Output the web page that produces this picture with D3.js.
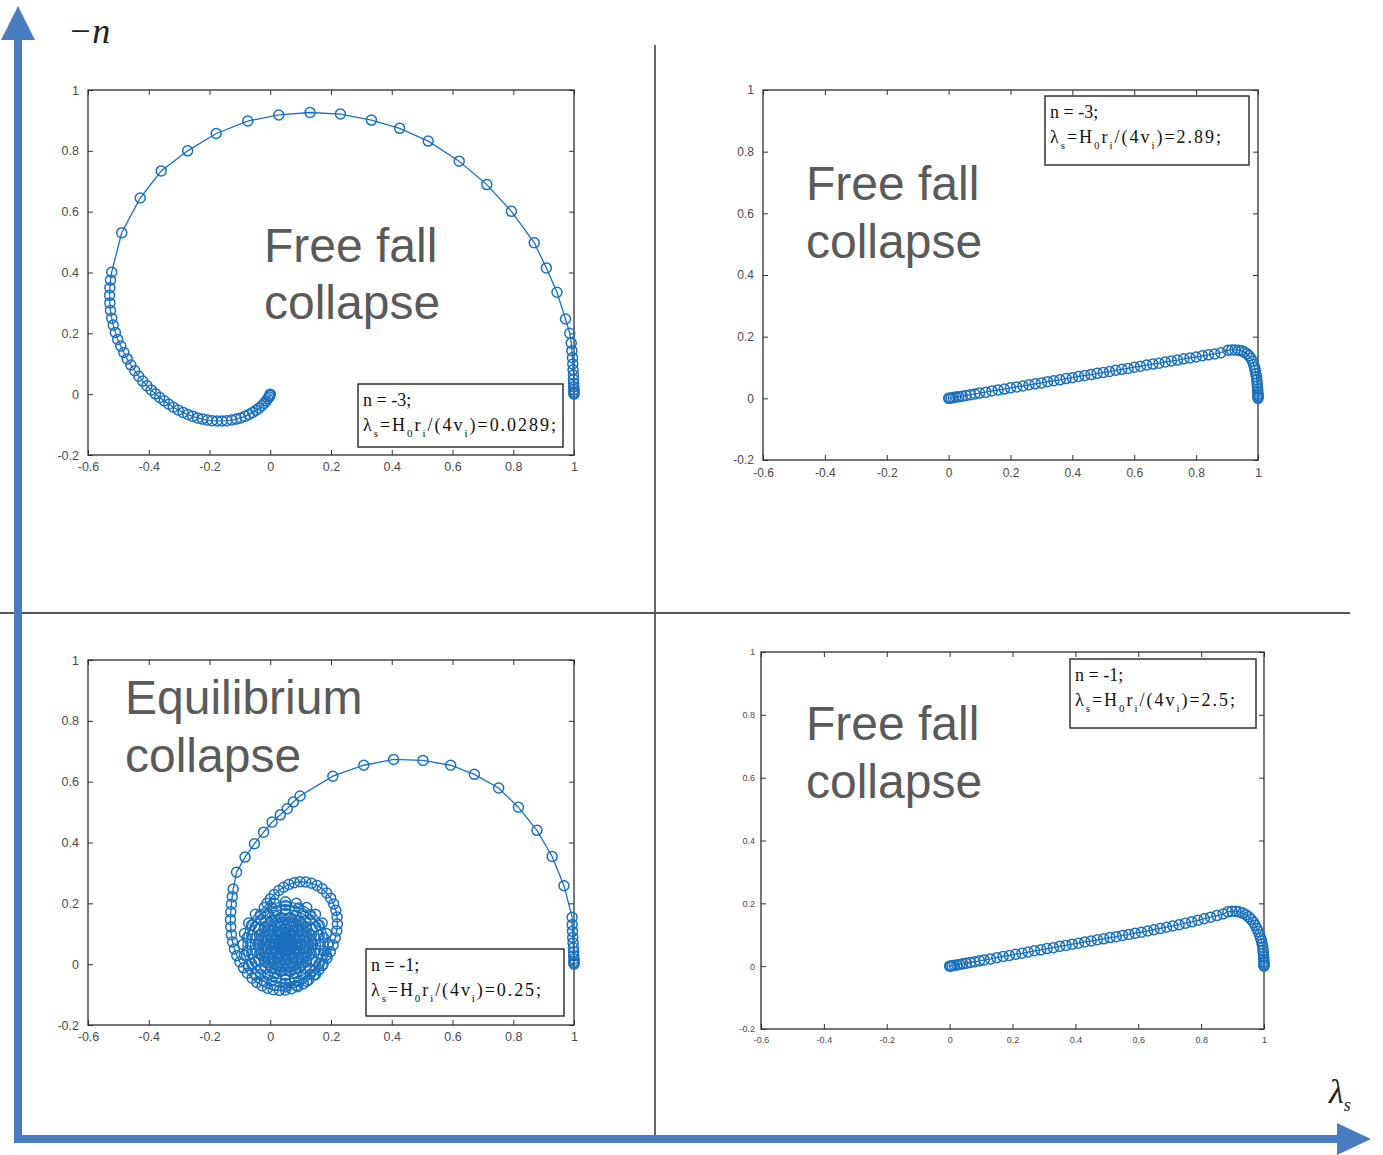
<!DOCTYPE html>
<html>
<head>
<meta charset="utf-8">
<script src="https://cdn.jsdelivr.net/npm/d3@7"></script>
<style>
  html, body { margin: 0; padding: 0; background: #ffffff; }
  svg { display: block; }
</style>
</head>
<body>
<svg id="fig" width="1383" height="1155"></svg>
<script>
// ---- Tick values shared by every panel ----
const xTicks = [-0.6, -0.4, -0.2, 0, 0.2, 0.4, 0.6, 0.8, 1];
const yTicks = [-0.2, 0, 0.2, 0.4, 0.6, 0.8, 1];

// ---- Phase trajectories (λs, -n) ----
// n = -3, λs = 0.0289 : free-fall spiral
const trajA = [
  [1,0],[1,0.003],[1,0.008],[1,0.015],[0.999,0.024],[0.999,0.035],[0.998,0.048],[0.998,0.063],
  [0.997,0.08],[0.996,0.099],[0.995,0.12],[0.993,0.143],[0.991,0.168],[0.986,0.2],[0.972,0.247],
  [0.944,0.335],[0.909,0.415],[0.869,0.498],[0.794,0.601],[0.713,0.689],[0.622,0.766],[0.52,0.832],
  [0.426,0.874],[0.333,0.901],[0.231,0.921],[0.131,0.926],[0.028,0.918],[-0.074,0.898],[-0.178,0.857],
  [-0.272,0.8],[-0.359,0.734],[-0.428,0.645],[-0.489,0.531],[-0.522,0.401],
  [-0.526,0.375],[-0.528,0.35],[-0.529,0.325],[-0.528,0.3],[-0.526,0.275],[-0.522,0.25],[-0.517,0.227],
  [-0.51,0.203],[-0.502,0.18],[-0.492,0.158],[-0.482,0.137],[-0.471,0.116],[-0.459,0.096],[-0.446,0.077],
  [-0.433,0.059],[-0.42,0.043],[-0.406,0.028],[-0.392,0.014],[-0.378,0.001],[-0.364,-0.011],[-0.349,-0.022],
  [-0.334,-0.033],[-0.319,-0.043],[-0.303,-0.052],[-0.287,-0.06],[-0.271,-0.067],[-0.255,-0.073],
  [-0.239,-0.078],[-0.223,-0.082],[-0.207,-0.085],[-0.191,-0.087],[-0.175,-0.088],[-0.159,-0.088],
  [-0.143,-0.087],[-0.127,-0.085],[-0.112,-0.082],[-0.097,-0.078],[-0.083,-0.073],[-0.07,-0.067],
  [-0.058,-0.06],[-0.047,-0.053],[-0.037,-0.046],[-0.028,-0.038],[-0.02,-0.03],[-0.013,-0.022],
  [-0.008,-0.015],[-0.004,-0.009],[-0.001,-0.004],[0,0]
];

// n = -3, λs = 2.89 : free fall, straight return
const trajB = [
  [1,0],[1,0.004],[1,0.009],[1,0.015],[0.999,0.022],[0.999,0.03],[0.998,0.04],[0.997,0.05],
  [0.996,0.06],[0.995,0.07],[0.993,0.08],[0.991,0.09],[0.989,0.1],[0.986,0.11],[0.982,0.12],
  [0.977,0.13],[0.971,0.138],[0.964,0.145],[0.956,0.15],[0.947,0.154],[0.937,0.156],[0.926,0.157],
  [0.915,0.157],[0.903,0.156],[0.88,0.148],[0.86,0.144],[0.84,0.141],[0.82,0.138],[0.8,0.134],
  [0.78,0.131],[0.76,0.128],[0.74,0.124],[0.72,0.121],[0.7,0.118],[0.68,0.114],[0.66,0.111],
  [0.64,0.108],[0.62,0.104],[0.6,0.101],[0.58,0.097],[0.56,0.094],[0.54,0.091],[0.52,0.087],
  [0.5,0.084],[0.48,0.081],[0.46,0.077],[0.44,0.074],[0.42,0.071],[0.4,0.067],[0.38,0.064],
  [0.36,0.06],[0.34,0.057],[0.32,0.054],[0.3,0.05],[0.28,0.047],[0.26,0.044],[0.24,0.04],
  [0.22,0.037],[0.2,0.034],[0.18,0.03],[0.16,0.027],[0.14,0.024],[0.12,0.02],[0.1,0.017],
  [0.085,0.014],[0.07,0.012],[0.056,0.009],[0.044,0.007],[0.033,0.0055],[0.023,0.004],
  [0.015,0.0025],[0.008,0.0013],[0.003,0.0005],[0,0]
];

// n = -1, λs = 0.25 : equilibrium spiral winding into a fixed point
const trajC = [
  [1,0],[1,0.004],[1,0.01],[1,0.018],[0.999,0.028],[0.999,0.04],[0.998,0.054],[0.997,0.07],
  [0.996,0.088],[0.995,0.108],[0.994,0.13],[0.994,0.154],[0.967,0.258],[0.928,0.354],[0.878,0.44],
  [0.817,0.516],[0.752,0.579],[0.672,0.624],[0.594,0.654],[0.503,0.67],[0.406,0.673],[0.308,0.654],
  [0.206,0.618],[0.098,0.553],[0.076,0.533],[0.056,0.511],[0.033,0.491],[0.006,0.467],[-0.022,0.434],
  [-0.052,0.396],[-0.083,0.352],[-0.111,0.302],[-0.122,0.247],
  [-0.125,0.222],[-0.128,0.197],[-0.13,0.172],[-0.131,0.147],[-0.13,0.122],[-0.128,0.097],
  [-0.124,0.073],[-0.118,0.05],[-0.11,0.028],[-0.1,0.007],[-0.088,-0.012],[-0.075,-0.03],
  [-0.06,-0.046],[-0.044,-0.06],[-0.027,-0.071],[-0.009,-0.079],[0.01,-0.084],[0.03,-0.086],
  [0.05,-0.085],[0.07,-0.081],[0.09,-0.074],[0.109,-0.064],[0.127,-0.051],[0.144,-0.036],
  [0.16,-0.019],[0.174,0],[0.187,0.02],[0.198,0.041],[0.207,0.063],[0.214,0.086],[0.219,0.109],
  [0.221,0.132],[0.22,0.155],[0.216,0.177],[0.209,0.198],[0.199,0.217],[0.186,0.234],[0.171,0.248],
  [0.154,0.259],[0.136,0.266],[0.117,0.27],[0.098,0.271],[0.079,0.268],[0.061,0.262],[0.044,0.253],
  [0.028,0.242],[0.013,0.229],[0,0.214],[-0.011,0.2],
  [-0.02,0.186],[-0.049,0.164],[-0.071,0.135],[-0.085,0.101],[-0.09,0.065],[-0.085,0.029],
  [-0.071,-0.005],[-0.049,-0.034],[-0.02,-0.056],[0.014,-0.07],[0.05,-0.075],[0.086,-0.07],
  [0.12,-0.056],[0.149,-0.034],[0.171,-0.005],[0.185,0.029],[0.19,0.065],[0.185,0.101],
  [0.171,0.135],[0.149,0.164],[0.12,0.186],[0.086,0.2],[0.05,0.205],[0.014,0.2],
  [-0.032,0.163],[-0.061,0.129],[-0.076,0.087],[-0.076,0.043],[-0.061,0.001],[-0.032,-0.033],
  [0.006,-0.055],[0.05,-0.063],[0.094,-0.055],[0.132,-0.033],[0.161,0.001],[0.176,0.043],
  [0.176,0.087],[0.161,0.129],[0.132,0.163],[0.094,0.185],[0.05,0.193],[0.006,0.185],
  [-0.008,0.165],[-0.031,0.146],[-0.05,0.123],[-0.061,0.095],[-0.065,0.065],[-0.061,0.035],
  [-0.05,0.007],[-0.031,-0.016],[-0.008,-0.035],[0.02,-0.046],[0.05,-0.05],[0.08,-0.046],
  [0.108,-0.035],[0.131,-0.016],[0.15,0.007],[0.161,0.035],[0.165,0.065],[0.161,0.095],
  [0.15,0.123],[0.131,0.146],[0.108,0.165],[0.08,0.176],[0.05,0.18],[0.02,0.176],
  [-0.016,0.143],[-0.038,0.116],[-0.05,0.083],[-0.05,0.047],[-0.038,0.014],[-0.016,-0.013],
  [0.015,-0.031],[0.05,-0.037],[0.085,-0.031],[0.116,-0.013],[0.138,0.014],[0.15,0.047],
  [0.15,0.083],[0.138,0.116],[0.116,0.143],[0.085,0.161],[0.05,0.167],[0.015,0.161],
  [0.005,0.143],[-0.019,0.123],[-0.035,0.096],[-0.04,0.065],[-0.035,0.034],[-0.019,0.007],
  [0.005,-0.013],[0.034,-0.024],[0.066,-0.024],[0.095,-0.013],[0.119,0.007],[0.135,0.034],
  [0.14,0.065],[0.135,0.096],[0.119,0.123],[0.095,0.143],[0.066,0.154],[0.034,0.154],
  [-0.001,0.126],[-0.018,0.105],[-0.028,0.079],[-0.028,0.051],[-0.018,0.025],[-0.001,0.004],
  [0.023,-0.009],[0.05,-0.014],[0.077,-0.009],[0.101,0.004],[0.118,0.025],[0.128,0.051],
  [0.128,0.079],[0.118,0.105],[0.101,0.126],[0.077,0.139],[0.05,0.144],[0.023,0.139],
  [0.016,0.124],[-0.002,0.109],[-0.014,0.088],[-0.018,0.065],[-0.014,0.042],[-0.002,0.021],
  [0.016,0.006],[0.038,-0.002],[0.062,-0.002],[0.084,0.006],[0.102,0.021],[0.114,0.042],
  [0.118,0.065],[0.114,0.088],[0.102,0.109],[0.084,0.124],[0.062,0.132],[0.038,0.132],
  [0.008,0.107],[-0.007,0.08],[-0.007,0.05],[0.008,0.023],[0.035,0.008],[0.065,0.008],
  [0.092,0.023],[0.107,0.05],[0.107,0.08],[0.092,0.107],[0.065,0.122],[0.035,0.122],
  [0.025,0.108],[0.007,0.09],[0,0.065],[0.007,0.04],[0.025,0.022],[0.05,0.015],
  [0.075,0.022],[0.093,0.04],[0.1,0.065],[0.093,0.09],[0.075,0.108],[0.05,0.115],
  [0.021,0.094],[0.01,0.076],[0.01,0.054],[0.021,0.036],[0.039,0.025],[0.061,0.025],
  [0.079,0.036],[0.09,0.054],[0.09,0.076],[0.079,0.094],[0.061,0.105],[0.039,0.105],
  [0.034,0.093],[0.022,0.081],[0.018,0.065],[0.022,0.049],[0.034,0.037],[0.05,0.033],
  [0.066,0.037],[0.078,0.049],[0.082,0.065],[0.078,0.081],[0.066,0.093],[0.05,0.097],
  [0.032,0.083],[0.026,0.071],[0.026,0.059],[0.032,0.047],[0.044,0.041],[0.056,0.041],
  [0.068,0.047],[0.074,0.059],[0.074,0.071],[0.068,0.083],[0.056,0.089],[0.044,0.089],
  [0.037,0.078],[0.032,0.065],[0.037,0.052],[0.05,0.047],[0.063,0.052],[0.068,0.065],
  [0.063,0.078],[0.05,0.083],
  [0.045,0.07],[0.043,0.065],[0.045,0.06],[0.05,0.058],[0.055,0.06],[0.057,0.065],
  [0.055,0.07],[0.05,0.072],[0.05,0.065]
];

// n = -1, λs = 2.5 : free fall, straight return
const trajD = [
  [1,0],[1,0.004],[1,0.009],[1,0.015],[0.999,0.022],[0.999,0.03],[0.998,0.04],[0.997,0.05],
  [0.996,0.06],[0.994,0.07],[0.992,0.08],[0.989,0.09],[0.986,0.1],[0.982,0.11],[0.977,0.12],
  [0.972,0.13],[0.966,0.14],[0.959,0.149],[0.951,0.157],[0.942,0.164],[0.932,0.169],[0.921,0.173],
  [0.91,0.175],[0.898,0.175],[0.885,0.173],[0.87,0.166],[0.85,0.161],[0.83,0.156],[0.81,0.151],
  [0.79,0.146],[0.77,0.141],[0.75,0.137],[0.73,0.132],[0.71,0.128],[0.69,0.124],[0.67,0.12],
  [0.65,0.116],[0.63,0.112],[0.61,0.108],[0.59,0.105],[0.57,0.101],[0.55,0.098],[0.53,0.094],
  [0.51,0.091],[0.49,0.087],[0.47,0.084],[0.45,0.08],[0.43,0.077],[0.41,0.073],[0.39,0.07],
  [0.37,0.066],[0.35,0.063],[0.33,0.059],[0.31,0.056],[0.29,0.052],[0.27,0.049],[0.25,0.045],
  [0.23,0.041],[0.21,0.038],[0.19,0.034],[0.17,0.031],[0.15,0.027],[0.13,0.023],[0.11,0.02],
  [0.095,0.017],[0.08,0.014],[0.066,0.012],[0.053,0.0095],[0.042,0.0075],[0.032,0.0057],
  [0.023,0.004],[0.015,0.0027],[0.008,0.0014],[0.003,0.0005],[0,0]
];

// ---- Panel annotations ----
const regimeLabels = [
  ["Free fall", "collapse"],
  ["Free fall", "collapse"],
  ["Equilibrium", "collapse"],
  ["Free fall", "collapse"]
];
const nValues = ["-3", "-3", "-1", "-1"];
const lambdaValues = ["0.0289", "2.89", "0.25", "2.5"];

// ---- Layout of the four sub-plots ----
const panels = [
  { data: trajA, x0: 88,  x1: 574,  yb: 455,  yt: 90,  tickFont: 12.5, padX: 7, padY: 9,
    lx: 264, ly: [262, 319], leg: { x: 358, y: 384, w: 205, h: 63, w2: 193 } },
  { data: trajB, x0: 763, x1: 1258, yb: 460,  yt: 90,  tickFont: 12, padX: 8, padY: 9,
    lx: 806, ly: [200, 258], leg: { x: 1045, y: 96, w: 204, h: 69, w2: 171 } },
  { data: trajC, x0: 88,  x1: 574,  yb: 1025, yt: 660, tickFont: 12.5, padX: 7, padY: 9,
    lx: 125, ly: [714, 772], leg: { x: 366, y: 949, w: 198, h: 67, w2: 170 } },
  { data: trajD, x0: 761, x1: 1264, yb: 1029, yt: 652, tickFont: 9, padX: 8, padY: 6,
    lx: 806, ly: [740, 798], leg: { x: 1070, y: 659, w: 186, h: 69, w2: 160 } }
];

const svg = d3.select("#fig");
const blue = "#1a70bd";
const arrowBlue = "#4a7dc0";

// ---- Quadrant dividers ----
svg.append("line").attr("x1", 655).attr("x2", 655).attr("y1", 45).attr("y2", 1135)
  .attr("stroke", "#555").attr("stroke-width", 1.8);
svg.append("line").attr("x1", 0).attr("x2", 1350).attr("y1", 613).attr("y2", 613)
  .attr("stroke", "#555").attr("stroke-width", 1.8);

// ---- Sub-plots ----
panels.forEach((p, i) => {
  const x = d3.scaleLinear().domain([-0.6, 1]).range([p.x0, p.x1]);
  const y = d3.scaleLinear().domain([-0.2, 1]).range([p.yb, p.yt]);
  const g = svg.append("g");
  const fmt = d => String(d);

  const styleAxis = sel => {
    sel.select(".domain").remove();
    sel.selectAll(".tick line").attr("stroke", "#333").attr("stroke-width", 1);
    sel.selectAll(".tick text").attr("fill", "#4a4a4a")
      .style("font-family", "'Liberation Sans', Arial, sans-serif")
      .style("font-size", p.tickFont + "px");
  };

  g.append("g").attr("transform", `translate(0,${p.yb})`)
    .call(d3.axisBottom(x).tickValues(xTicks).tickFormat(fmt).tickSize(-5).tickPadding(p.padX))
    .call(styleAxis);
  g.append("g").attr("transform", `translate(0,${p.yt})`)
    .call(d3.axisTop(x).tickValues(xTicks).tickFormat("").tickSize(-5))
    .call(styleAxis);
  g.append("g").attr("transform", `translate(${p.x0},0)`)
    .call(d3.axisLeft(y).tickValues(yTicks).tickFormat(fmt).tickSize(-5).tickPadding(p.padY))
    .call(styleAxis);
  g.append("g").attr("transform", `translate(${p.x1},0)`)
    .call(d3.axisRight(y).tickValues(yTicks).tickFormat("").tickSize(-5))
    .call(styleAxis);

  g.append("rect").attr("x", p.x0).attr("y", p.yt)
    .attr("width", p.x1 - p.x0).attr("height", p.yb - p.yt)
    .attr("fill", "none").attr("stroke", "#2e2e2e").attr("stroke-width", 1.3);

  // regime label
  const lab = g.append("text").attr("fill", "#5a5a5a")
    .style("font-family", "'Liberation Sans', Arial, sans-serif")
    .style("font-size", "48px");
  regimeLabels[i].forEach((t, k) => {
    lab.append("tspan").attr("x", p.lx).attr("y", p.ly[k]).text(t);
  });

  // trajectory
  const line = d3.line().x(d => x(d[0])).y(d => y(d[1]));
  g.append("path").datum(p.data).attr("d", line)
    .attr("fill", "none").attr("stroke", blue).attr("stroke-width", 1.3);
  g.append("g").selectAll("circle").data(p.data).join("circle")
    .attr("cx", d => x(d[0])).attr("cy", d => y(d[1])).attr("r", 5)
    .attr("fill", "none").attr("stroke", blue).attr("stroke-width", 1.5);

  // legend box
  const L = p.leg;
  g.append("rect").attr("x", L.x).attr("y", L.y).attr("width", L.w).attr("height", L.h)
    .attr("fill", "#fff").attr("stroke", "#333").attr("stroke-width", 1.5);
  const serif = "'Liberation Serif', 'Times New Roman', serif";
  g.append("text").attr("x", L.x + 5).attr("y", L.y + 22)
    .style("font-family", serif).style("font-size", "18px").attr("fill", "#111")
    .text(`n = ${nValues[i]};`);
  const t2 = g.append("text").attr("x", L.x + 5).attr("y", L.y + 47)
    .attr("textLength", L.w2).attr("lengthAdjust", "spacing")
    .style("font-family", serif).style("font-size", "18px").attr("fill", "#111");
  const sub = (s) => t2.append("tspan").attr("dy", 6).style("font-size", "11px").text(s);
  const main = (s) => t2.append("tspan").attr("dy", -6).text(s);
  t2.append("tspan").text("λ");
  sub("s"); main("=H"); sub("0"); main("r"); sub("i"); main("/(4v"); sub("i");
  main(`)=${lambdaValues[i]};`);
});

// ---- Big coordinate arrows ----
svg.append("line").attr("x1", 18).attr("x2", 18).attr("y1", 1143).attr("y2", 36)
  .attr("stroke", arrowBlue).attr("stroke-width", 8);
svg.append("path").attr("d", "M18,6 L1,40 L35,40 Z").attr("fill", arrowBlue);
svg.append("line").attr("x1", 14).attr("x2", 1340).attr("y1", 1139).attr("y2", 1139)
  .attr("stroke", arrowBlue).attr("stroke-width", 8);
svg.append("path").attr("d", "M1371,1139 L1337,1123 L1337,1155 Z").attr("fill", arrowBlue);

// axis names
svg.append("text").attr("x", 68).attr("y", 43)
  .style("font-family", "'Liberation Serif', 'Times New Roman', serif")
  .style("font-style", "italic").style("font-size", "36px").attr("fill", "#222")
  .text("−n");
const lam = svg.append("text").attr("x", 1329).attr("y", 1103)
  .style("font-family", "'Liberation Serif', 'Times New Roman', serif")
  .style("font-style", "italic").style("font-size", "34px").attr("fill", "#222");
lam.append("tspan").text("λ");
lam.append("tspan").attr("dy", 8).style("font-size", "18px").text("s");
</script>
</body>
</html>
